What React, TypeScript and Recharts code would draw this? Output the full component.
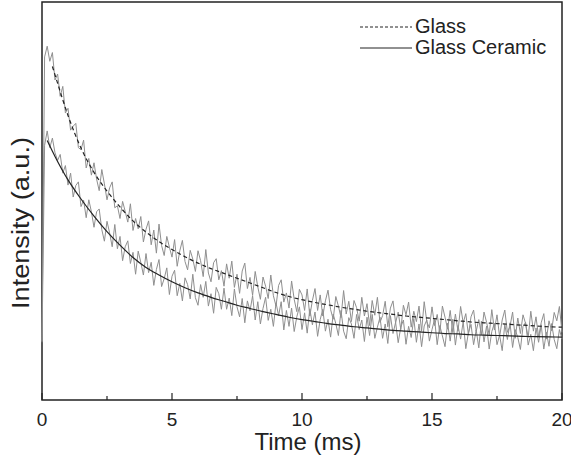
import { LineChart, Line, XAxis, YAxis, ReferenceArea, Legend } from 'recharts';

// time grid of the measured decay (ms)
const rawTimes = Array.from({ length: 201 }, (_, i) => +(i * 0.1).toFixed(1));

// measured intensity, Glass (a.u.)
const glassRaw = [
  14.8, 86.2, 88.9, 85.1, 87.3, 80.4, 81.9, 76.3, 78.8, 72.1,
  73.3, 67.8, 68.8, 69.5, 63.4, 62.9, 65.3, 58.3, 60.7, 56.5,
  59.6, 55.5, 52.6, 57.9, 54.3, 50.3, 53.3, 54.8, 48.3, 48.8,
  45.6, 49.9, 47.4, 44.7, 49.3, 42.6, 45.6, 43.0, 46.1, 39.7,
  42.9, 45.0, 39.0, 42.7, 36.9, 44.2, 38.8, 36.3, 41.1, 38.4,
  35.9, 40.3, 33.6, 37.5, 40.1, 34.8, 32.7, 37.6, 35.4, 32.3,
  37.5, 35.0, 31.0, 37.8, 31.9, 29.7, 34.5, 35.5, 30.2, 32.5,
  28.6, 34.2, 30.6, 34.9, 28.3, 31.6, 26.8, 32.4, 34.4, 28.0,
  30.8, 26.3, 32.3, 28.4, 25.3, 30.9, 28.6, 25.5, 31.4, 26.2,
  23.6, 28.8, 30.2, 24.6, 26.9, 23.1, 29.9, 25.3, 22.2, 27.8,
  26.4, 22.5, 27.9, 21.1, 25.0, 28.0, 22.5, 26.4, 21.1, 24.9,
  27.6, 22.7, 20.3, 26.0, 23.6, 20.7, 27.5, 21.6, 24.8, 19.7,
  25.0, 23.2, 19.8, 25.8, 21.1, 24.2, 18.7, 25.0, 21.3, 25.8,
  19.5, 21.2, 24.8, 18.4, 23.1, 24.9, 19.4, 22.1, 17.7, 23.8,
  21.4, 24.6, 18.3, 22.3, 19.7, 23.6, 17.3, 24.7, 19.7, 18.1,
  23.4, 18.7, 21.5, 16.8, 23.6, 20.8, 17.8, 22.5, 16.9, 21.6,
  17.3, 23.5, 19.4, 21.7, 16.4, 20.9, 22.6, 17.3, 20.2, 16.4,
  22.1, 19.5, 16.4, 22.7, 17.6, 21.4, 15.9, 20.1, 22.6, 17.0,
  18.5, 22.1, 15.5, 20.6, 16.7, 21.4, 19.2, 15.7, 22.3, 17.3,
  20.9, 15.8, 19.4, 21.7, 15.3, 19.9, 17.4, 22.0, 19.9, 23.5,
  17.0,
];

// measured intensity, Glass Ceramic (a.u.)
const ceramicRaw = [
  14.5, 64.0, 67.6, 63.4, 65.8, 62.1, 60.2, 61.7, 57.0, 58.9,
  54.0, 57.0, 51.0, 53.9, 54.8, 48.6, 50.2, 45.8, 50.3, 47.3,
  43.4, 47.3, 48.0, 42.8, 39.9, 44.9, 42.0, 38.5, 44.1, 38.0,
  41.1, 35.0, 38.5, 40.0, 34.3, 37.1, 31.6, 37.4, 34.6, 31.4,
  36.8, 32.0, 34.6, 28.8, 32.8, 35.3, 28.5, 30.5, 33.2, 26.5,
  31.1, 32.6, 26.2, 29.3, 24.9, 30.7, 29.0, 25.4, 31.6, 25.7,
  23.8, 29.0, 25.8, 29.8, 23.6, 26.7, 21.8, 28.3, 26.7, 22.8,
  28.1, 22.8, 25.6, 21.2, 27.9, 23.4, 20.9, 25.5, 19.4, 24.9,
  22.4, 26.2, 20.1, 24.7, 19.1, 23.0, 25.8, 20.0, 22.8, 18.5,
  24.4, 21.2, 24.7, 17.6, 22.5, 18.5, 23.1, 17.2, 20.9, 23.4,
  17.7, 21.9, 16.8, 22.9, 18.9, 22.1, 16.0, 20.2, 22.8, 17.3,
  20.3, 15.8, 21.6, 19.2, 16.2, 22.5, 17.3, 15.4, 20.7, 19.1,
  15.5, 21.5, 17.7, 20.1, 14.7, 20.8, 16.2, 21.5, 15.5, 18.3,
  20.8, 15.5, 19.1, 14.2, 21.2, 16.7, 19.5, 14.4, 18.3, 20.1,
  14.0, 18.5, 15.7, 20.5, 14.5, 19.1, 13.4, 18.6, 20.1, 14.8,
  17.7, 20.3, 13.9, 18.7, 16.1, 13.4, 19.3, 14.8, 20.3, 13.8,
  18.7, 15.3, 19.7, 12.9, 16.9, 19.0, 13.9, 17.6, 13.1, 19.8,
  14.6, 18.6, 12.8, 17.2, 19.3, 13.9, 16.3, 12.4, 19.0, 15.2,
  19.4, 13.2, 17.7, 15.7, 12.7, 18.5, 19.5, 13.8, 16.5, 12.4,
  18.1, 14.5, 18.9, 12.8, 17.0, 13.5, 19.2, 15.2, 12.9, 17.7,
  15.3,
];

// fitted decay curves
const glassFitTimes = [0.4, 0.5, 1, 1.5, 2, 2.5, 3, 3.5, 4, 4.5, 5, 5.5, 6, 6.5, 7, 7.5, 8, 8.5, 9, 9.5, 10,
  10.5, 11, 11.5, 12, 12.5, 13, 13.5, 14, 14.5, 15, 15.5, 16, 16.5, 17, 17.5, 18, 18.5, 19, 19.5, 20];
const glassFit = [83.8, 81.7, 71.5, 63.3, 57.2, 52.5, 48.5, 45.0, 42.2, 39.8, 37.8, 36.0, 34.4, 33.0, 31.8, 30.6,
  29.4, 28.2, 27.0, 26.0, 25.2, 24.5, 23.9, 23.3, 22.8, 22.3, 21.9, 21.5, 21.1, 20.8, 20.5, 20.2, 19.9, 19.6,
  19.4, 19.2, 19.0, 18.8, 18.6, 18.4, 18.3];

const ceramicFitTimes = [0.2, 0.5, 1, 1.5, 2, 2.5, 3, 3.5, 4, 4.5, 5, 5.5, 6, 6.5, 7, 7.5, 8, 8.5, 9, 9.5, 10,
  10.5, 11, 11.5, 12, 12.5, 13, 13.5, 14, 14.5, 15, 15.5, 16, 16.5, 17, 17.5, 18, 18.5, 19, 19.5, 20];
const ceramicFit = [65.2, 61.2, 55.3, 50.5, 46.2, 42.3, 38.9, 35.8, 33.3, 31.4, 29.7, 28.2, 26.9, 25.8, 24.8,
  23.8, 23.0, 22.2, 21.5, 20.8, 20.2, 19.7, 19.2, 18.8, 18.4, 18.1, 17.8, 17.5, 17.3, 17.1, 16.9, 16.7, 16.6,
  16.4, 16.3, 16.2, 16.1, 16.0, 15.9, 15.85, 15.8];

const xTicks = [0, 2.5, 5, 7.5, 10, 12.5, 15, 17.5, 20];
const legendItems = [
  { name: 'Glass', dash: '3 2' },
  { name: 'Glass Ceramic', dash: undefined },
];

const FONT = '"Liberation Sans", Arial, Helvetica, sans-serif';
const INK = '#222';
const NOISE = '#8f8f8f';

const glassRawData = rawTimes.map((t, i) => ({ t, v: glassRaw[i] }));
const ceramicRawData = rawTimes.map((t, i) => ({ t, v: ceramicRaw[i] }));
const glassFitData = glassFitTimes.map((t, i) => ({ t, v: glassFit[i] }));
const ceramicFitData = ceramicFitTimes.map((t, i) => ({ t, v: ceramicFit[i] }));

const TimeTick = (props: any) => {
  const { x, y, payload } = props;
  const major = payload.value % 5 === 0;
  return (
    <g>
      <line x1={x} x2={x} y1={y} y2={y - (major ? 7 : 4)} stroke={INK} strokeWidth={1.2} />
      {major && (
        <text x={x} y={y + 26} textAnchor="middle" fontSize={19} fill={INK} fontFamily={FONT}>
          {payload.value}
        </text>
      )}
    </g>
  );
};

const XTitle = (props: any) => {
  const { x, y, width } = props.viewBox;
  return (
    <text x={x + width / 2 + 6} y={y + 50} textAnchor="middle" fontSize={24} fill={INK} fontFamily={FONT}>
      Time (ms)
    </text>
  );
};

const YTitle = (props: any) => {
  const { x, y, width, height } = props.viewBox;
  const cx = x + width / 2;
  const cy = y + height / 2 + 22;
  return (
    <text x={cx} y={cy + 8} transform={`rotate(-90, ${cx}, ${cy})`} textAnchor="middle" fontSize={23}
      fill={INK} fontFamily={FONT} textLength={172} lengthAdjust="spacingAndGlyphs">
      Intensity (a.u.)
    </text>
  );
};

const renderLegend = () => (
  <div style={{ fontFamily: FONT, fontSize: 20, color: INK, lineHeight: '21px' }}>
    {legendItems.map((it) => (
      <div key={it.name} style={{ display: 'flex', alignItems: 'center' }}>
        <svg width={55} height={21}>
          <line x1={0} x2={52} y1={11} y2={11} stroke={INK} strokeWidth={1} strokeDasharray={it.dash} />
        </svg>
        <span>{it.name}</span>
      </div>
    ))}
  </div>
);

export default function App() {
  return (
    <div style={{ position: 'absolute', left: 0, top: 0, background: '#fff' }}>
      <LineChart width={571} height={463} margin={{ top: 2, right: 9, bottom: 0, left: 0 }}
        style={{ fontFamily: FONT }}>
        <XAxis dataKey="t" type="number" domain={[0, 20]} ticks={xTicks} interval={0} height={63}
          tickSize={0} tickMargin={0} tickLine={false} axisLine={false} tick={<TimeTick />}
          label={XTitle} allowDuplicatedCategory={false} />
        <YAxis type="number" domain={[0, 100]} width={42} tick={false} tickLine={false} axisLine={false}
          allowDataOverflow label={YTitle} />
        <ReferenceArea x1={0} x2={20} y1={0} y2={100} fill="none" stroke={INK} strokeWidth={1.5} />
        <Legend content={renderLegend} layout="vertical" verticalAlign="middle" align="center"
          wrapperStyle={{ top: 16, left: 360, width: 200 }} />
        <Line data={glassRawData} dataKey="v" stroke={NOISE} strokeWidth={1} dot={false}
          isAnimationActive={false} legendType="none" name="Glass data" />
        <Line data={ceramicRawData} dataKey="v" stroke={NOISE} strokeWidth={1} dot={false}
          isAnimationActive={false} legendType="none" name="Glass Ceramic data" />
        <Line data={glassFitData} dataKey="v" type="monotone" stroke={INK} strokeWidth={1.2}
          strokeDasharray="4 3" dot={false} isAnimationActive={false} name="Glass" />
        <Line data={ceramicFitData} dataKey="v" type="monotone" stroke={INK} strokeWidth={1.2}
          dot={false} isAnimationActive={false} name="Glass Ceramic" />
      </LineChart>
    </div>
  );
}
